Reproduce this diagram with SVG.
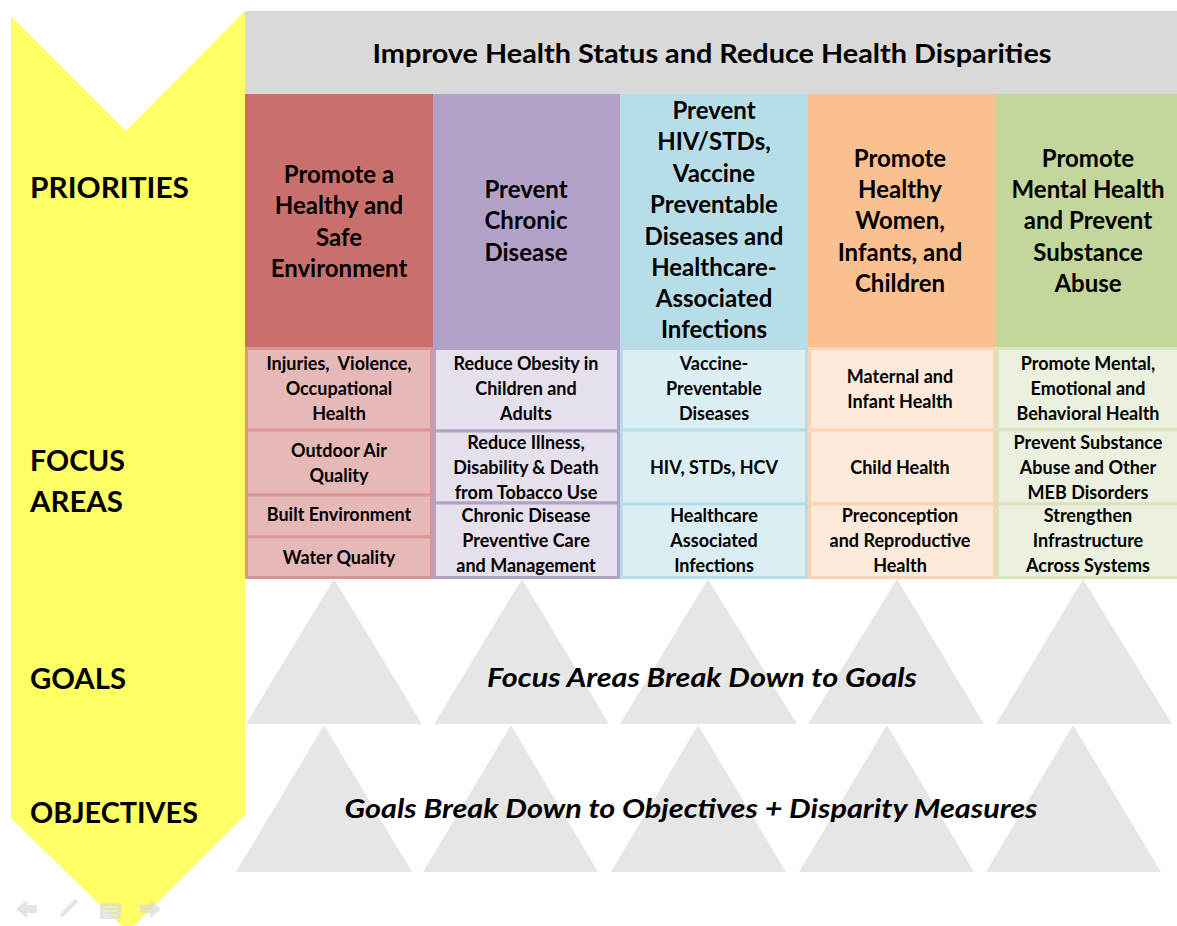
<svg xmlns="http://www.w3.org/2000/svg" width="1177" height="926" viewBox="0 0 1177 926">
<style>
text{font-family:Lato,"Liberation Sans",sans-serif;font-weight:bold;fill:#000;}
.lbl{font-size:28px;}
.pri{font-size:24px;text-anchor:middle;}
.fa{font-size:18px;text-anchor:middle;}
.it{font-size:27px;font-style:italic;text-anchor:middle;}
.tri{fill:#E6E6E6;}
.nav{fill:#D9D9D9;opacity:0.7;}
</style>
<rect width="1177" height="926" fill="#fff"/>
<g id="triangles">
<polygon class="tri" points="246,724 334,579 422,724"/>
<polygon class="tri" points="434,724 522,579 609,724"/>
<polygon class="tri" points="620,724 708,579 797,724"/>
<polygon class="tri" points="808,724 897,579 984,724"/>
<polygon class="tri" points="996,724 1083,579 1172,724"/>
<polygon class="tri" points="236,872 324,725 412,872"/>
<polygon class="tri" points="423,872 511,725 598,872"/>
<polygon class="tri" points="611,872 698,725 786,872"/>
<polygon class="tri" points="799,872 887,725 974,872"/>
<polygon class="tri" points="986,872 1073,725 1161,872"/>
</g>
<g id="arrow">
<path d="M11,16 L126,131 L245,11 L245,815 L128,932 L11,818 Z" fill="#FFFF66"/>
<text class="lbl" x="30" y="198" textLength="159" lengthAdjust="spacingAndGlyphs">PRIORITIES</text>
<text class="lbl" x="30" y="471" textLength="95" lengthAdjust="spacingAndGlyphs">FOCUS</text>
<text class="lbl" x="30" y="512" textLength="93" lengthAdjust="spacingAndGlyphs">AREAS</text>
<text class="lbl" x="30" y="689" textLength="96" lengthAdjust="spacingAndGlyphs">GOALS</text>
<text class="lbl" x="30" y="823" textLength="168" lengthAdjust="spacingAndGlyphs">OBJECTIVES</text>
</g>
<g id="nav">
<path class="nav" d="M16,909 L27,900 L27,905 L37,905 L37,913 L27,913 L27,918 Z"/>
<path class="nav" d="M60,918 L62,912 L75,899 L78,902 L65,915 Z"/>
<rect class="nav" x="100" y="903" width="21" height="16" rx="2"/>
<path d="M103,907 H118 M103,911 H118 M103,915 H118" stroke="#ffffff" stroke-width="1" opacity="0.6"/>
<path class="nav" d="M161,909 L150,900 L150,905 L140,905 L140,913 L150,913 L150,918 Z"/>
</g>
<g id="header">
<rect x="245" y="11" width="932" height="83" fill="#D9D9D9"/>
<text x="712" y="63" style="font-size:27px;text-anchor:middle" textLength="679" lengthAdjust="spacingAndGlyphs">Improve Health Status and Reduce Health Disparities</text>
</g>
<g id="priority-1">
<rect x="245" y="94" width="188" height="253" fill="#C9706C"/>
<text class="pri" x="339" y="183">Promote a</text>
<text class="pri" x="339" y="214">Healthy and</text>
<text class="pri" x="339" y="246">Safe</text>
<text class="pri" x="339" y="277">Environment</text>
</g>
<g id="priority-2">
<rect x="433" y="94" width="187" height="253" fill="#B3A2C7"/>
<text class="pri" x="526" y="198">Prevent</text>
<text class="pri" x="526" y="229">Chronic</text>
<text class="pri" x="526" y="261">Disease</text>
</g>
<g id="priority-3">
<rect x="620" y="94" width="188" height="253" fill="#B7DEE8"/>
<text class="pri" x="714" y="119">Prevent</text>
<text class="pri" x="714" y="150">HIV/STDs,</text>
<text class="pri" x="714" y="182">Vaccine</text>
<text class="pri" x="714" y="213">Preventable</text>
<text class="pri" x="714" y="245">Diseases and</text>
<text class="pri" x="714" y="276">Healthcare-</text>
<text class="pri" x="714" y="307">Associated</text>
<text class="pri" x="714" y="338">Infections</text>
</g>
<g id="priority-4">
<rect x="808" y="94" width="188" height="253" fill="#FAC090"/>
<text class="pri" x="900" y="167">Promote</text>
<text class="pri" x="900" y="198">Healthy</text>
<text class="pri" x="900" y="229">Women,</text>
<text class="pri" x="900" y="261">Infants, and</text>
<text class="pri" x="900" y="292">Children</text>
</g>
<g id="priority-5">
<rect x="996" y="94" width="181" height="253" fill="#C3D69B"/>
<text class="pri" x="1088" y="167">Promote</text>
<text class="pri" x="1088" y="198">Mental Health</text>
<text class="pri" x="1088" y="229">and Prevent</text>
<text class="pri" x="1088" y="261">Substance</text>
<text class="pri" x="1088" y="292">Abuse</text>
</g>
<g id="focus-1" fill="#E6B9B8" stroke="#D99694" stroke-width="3">
<rect x="246.5" y="348.5" width="185" height="81.5"/>
<rect x="246.5" y="430" width="185" height="65"/>
<rect x="246.5" y="495" width="185" height="42"/>
<rect x="246.5" y="537" width="185" height="40.5"/>
</g>
<g id="focus-1-text">
<text class="fa" x="339" y="370" xml:space="preserve">Injuries,  Violence,</text>
<text class="fa" x="339" y="395">Occupational</text>
<text class="fa" x="339" y="420">Health</text>
<text class="fa" x="339" y="457">Outdoor Air</text>
<text class="fa" x="339" y="482">Quality</text>
<text class="fa" x="339" y="521">Built Environment</text>
<text class="fa" x="339" y="564">Water Quality</text>
</g>
<g id="focus-2" fill="#E6E0EC" stroke="#B3A2C7" stroke-width="3">
<rect x="434.5" y="348.5" width="184" height="82.5"/>
<rect x="434.5" y="431" width="184" height="72"/>
<rect x="434.5" y="503" width="184" height="74.5"/>
</g>
<g id="focus-2-text">
<text class="fa" x="526" y="370">Reduce Obesity in</text>
<text class="fa" x="526" y="395">Children and</text>
<text class="fa" x="526" y="420">Adults</text>
<text class="fa" x="526" y="449">Reduce Illness,</text>
<text class="fa" x="526" y="474">Disability &amp; Death</text>
<text class="fa" x="526" y="499">from Tobacco Use</text>
<text class="fa" x="526" y="522">Chronic Disease</text>
<text class="fa" x="526" y="547">Preventive Care</text>
<text class="fa" x="526" y="572">and Management</text>
</g>
<g id="focus-3" fill="#DBEEF4" stroke="#B7DEE8" stroke-width="3">
<rect x="621.5" y="348.5" width="185" height="81.5"/>
<rect x="621.5" y="430" width="185" height="74"/>
<rect x="621.5" y="504" width="185" height="73.5"/>
</g>
<g id="focus-3-text">
<text class="fa" x="714" y="370">Vaccine-</text>
<text class="fa" x="714" y="395">Preventable</text>
<text class="fa" x="714" y="420">Diseases</text>
<text class="fa" x="714" y="474">HIV, STDs, HCV</text>
<text class="fa" x="714" y="522">Healthcare</text>
<text class="fa" x="714" y="547">Associated</text>
<text class="fa" x="714" y="572">Infections</text>
</g>
<g id="focus-4" fill="#FDEADA" stroke="#FBD4B4" stroke-width="3">
<rect x="809.5" y="348.5" width="185" height="81.5"/>
<rect x="809.5" y="430" width="185" height="74"/>
<rect x="809.5" y="504" width="185" height="73.5"/>
</g>
<g id="focus-4-text">
<text class="fa" x="900" y="383">Maternal and</text>
<text class="fa" x="900" y="408">Infant Health</text>
<text class="fa" x="900" y="474">Child Health</text>
<text class="fa" x="900" y="522">Preconception</text>
<text class="fa" x="900" y="547">and Reproductive</text>
<text class="fa" x="900" y="572">Health</text>
</g>
<g id="focus-5" fill="#EBF1DE" stroke="#D7E4BD" stroke-width="3">
<rect x="997.5" y="348.5" width="181" height="81.5"/>
<rect x="997.5" y="430" width="181" height="74"/>
<rect x="997.5" y="504" width="181" height="73.5"/>
</g>
<g id="focus-5-text">
<text class="fa" x="1088" y="370">Promote Mental,</text>
<text class="fa" x="1088" y="395">Emotional and</text>
<text class="fa" x="1088" y="420">Behavioral Health</text>
<text class="fa" x="1088" y="449">Prevent Substance</text>
<text class="fa" x="1088" y="474">Abuse and Other</text>
<text class="fa" x="1088" y="499">MEB Disorders</text>
<text class="fa" x="1088" y="522">Strengthen</text>
<text class="fa" x="1088" y="547">Infrastructure</text>
<text class="fa" x="1088" y="572">Across Systems</text>
</g>
<g id="goals-label">
<text class="it" x="702" y="687" textLength="430" lengthAdjust="spacingAndGlyphs">Focus Areas Break Down to Goals</text>
</g>
<g id="objectives-label">
<text class="it" x="691" y="818" textLength="693" lengthAdjust="spacingAndGlyphs">Goals Break Down to Objectives + Disparity Measures</text>
</g>
</svg>
